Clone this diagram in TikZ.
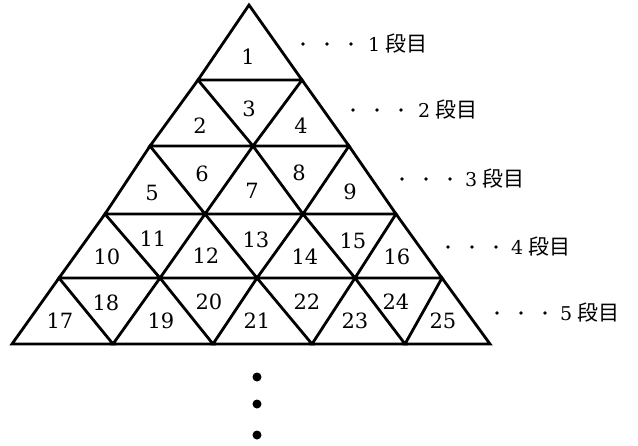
\documentclass[tikz,border=0pt]{standalone}
\usepackage{fontspec}
\newfontfamily\jpfont{Noto Sans CJK JP}
\newfontfamily\numfont{DejaVu Serif}
\begin{document}
\begin{tikzpicture}[x=1pt,y=-1pt,
  edge/.style={line width=2.8pt,line join=miter},
  num/.style={inner sep=0pt,font=\numfont\fontsize{21}{24}\selectfont},
  rowlab/.style={inner sep=0pt,anchor=west,font=\fontsize{21}{24}\selectfont},
  smalldot/.style={circle,fill=black,inner sep=0pt,minimum size=3.6pt},
  bigdot/.style={circle,fill=black,inner sep=0pt,minimum size=9pt}]
\useasboundingbox (0,0) rectangle (638,445);
% vertices
\coordinate (v-0-0) at (249,5);
\coordinate (v-1-0) at (198,80);  \coordinate (v-1-1) at (302,80);
\coordinate (v-2-0) at (150,146); \coordinate (v-2-1) at (253,146); \coordinate (v-2-2) at (349,146);
\coordinate (v-3-0) at (105,214); \coordinate (v-3-1) at (205,214); \coordinate (v-3-2) at (303,214); \coordinate (v-3-3) at (396,214);
\coordinate (v-4-0) at (59,278);  \coordinate (v-4-1) at (160,278); \coordinate (v-4-2) at (257,278); \coordinate (v-4-3) at (355,278); \coordinate (v-4-4) at (442,278);
\coordinate (v-5-0) at (12,344);  \coordinate (v-5-1) at (113,344); \coordinate (v-5-2) at (213,344); \coordinate (v-5-3) at (312,344); \coordinate (v-5-4) at (405,344); \coordinate (v-5-5) at (490,344);
% upward triangles
\foreach \r in {1,...,5} {
  \pgfmathtruncatemacro\rp{\r-1}
  \foreach \k in {0,...,\rp} {
    \pgfmathtruncatemacro\kk{\k+1}
    \draw[edge] (v-\rp-\k) -- (v-\r-\k) -- (v-\r-\kk) -- cycle;
  }
}
% numbers
\node[num] (t1) at (248,57) {1};
\node[num] (t2) at (200,126) {2};
\node[num] (t3) at (249,109) {3};
\node[num] (t4) at (301,126) {4};
\node[num] (t5) at (152,193) {5};
\node[num] (t6) at (202,174) {6};
\node[num] (t7) at (252,191) {7};
\node[num] (t8) at (299,173) {8};
\node[num] (t9) at (350,192) {9};
\node[num] (t10) at (107,257) {10};
\node[num] (t11) at (153,239) {11};
\node[num] (t12) at (206,256) {12};
\node[num] (t13) at (256,240) {13};
\node[num] (t14) at (305,257) {14};
\node[num] (t15) at (353,241) {15};
\node[num] (t16) at (397,257) {16};
\node[num] (t17) at (60,321) {17};
\node[num] (t18) at (106,303) {18};
\node[num] (t19) at (161,321) {19};
\node[num] (t20) at (209,302) {20};
\node[num] (t21) at (257,321) {21};
\node[num] (t22) at (307,302) {22};
\node[num] (t23) at (355,321) {23};
\node[num] (t24) at (396,302) {24};
\node[num] (t25) at (443,321) {25};
% row labels
\foreach \x/\y/\tx/\d in {303/44/368/1, 353/110/418/2, 402/179/465/3, 448/247/511/4, 497/313/560/5} {
  \node[smalldot] (d\d a) at (\x,\y) {};
  \node[smalldot] (d\d b) at (\x+24,\y) {};
  \node[smalldot] (d\d c) at (\x+48,\y) {};
  \node[rowlab] (r\d) at (\tx,\y) {{\numfont\fontsize{19}{24}\selectfont\d}\hspace{5pt}{\jpfont 段目}};
}
% continuation dots
\node[bigdot] (e1) at (257,377) {};
\node[bigdot] (e2) at (257,404) {};
\node[bigdot] (e3) at (257,435) {};
\end{tikzpicture}
\end{document}
